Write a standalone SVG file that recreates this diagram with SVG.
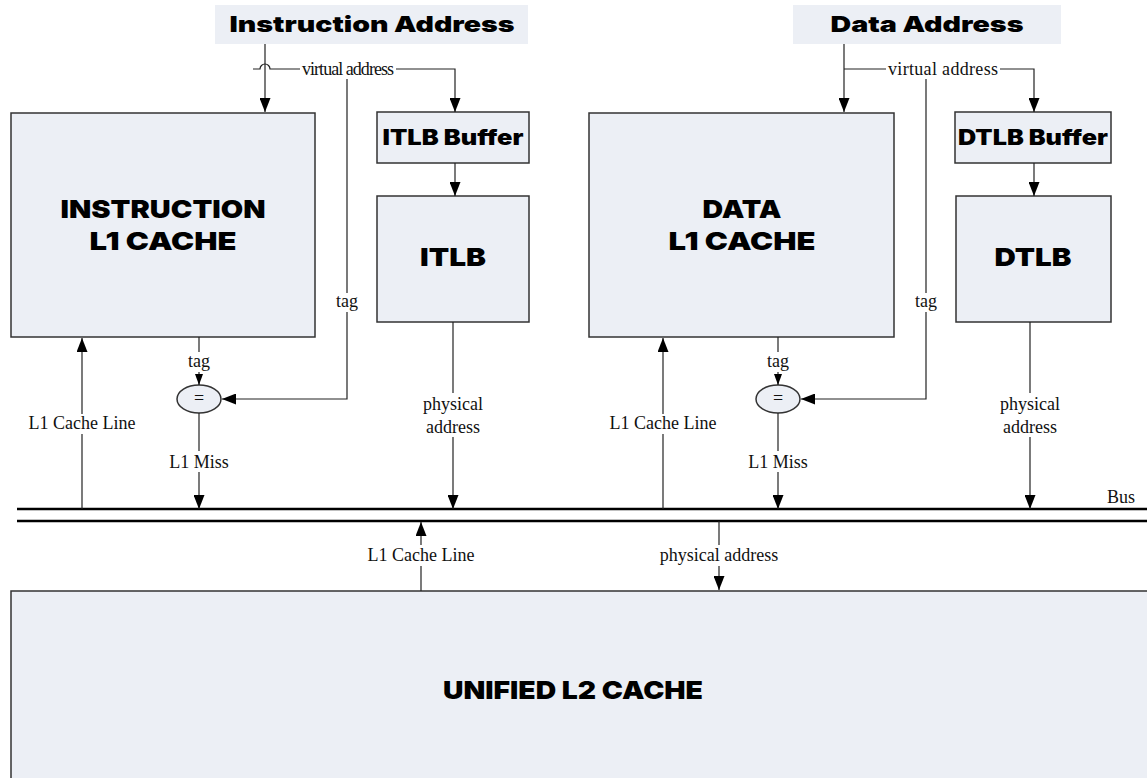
<svg xmlns="http://www.w3.org/2000/svg" width="1147" height="778" viewBox="0 0 1147 778">
  <style>
    .box { fill: #eceff5; stroke: #333; stroke-width: 1.5; }
    .ttl { fill: #eceff5; stroke: none; }
    .hd { font-family: "Inter", "Liberation Sans", Arial, sans-serif; font-weight: 900; fill: #000; text-anchor: middle; }
    .lbl { font-family: "Liberation Serif", "Times New Roman", serif; font-size: 18px; fill: #111; text-anchor: middle; }
    .wire { fill: none; stroke: #222; stroke-width: 1.2; }
    .bus { fill: none; stroke: #000; stroke-width: 2.5; }
    .bg { fill: #fff; stroke: none; }
  </style>
  <defs>
    <marker id="arr" markerUnits="userSpaceOnUse" markerWidth="14" markerHeight="11" refX="14" refY="5.5" orient="auto">
      <path d="M0,0 L14,5.5 L0,11 z" fill="#000"/>
    </marker>
    <marker id="arrS" markerUnits="userSpaceOnUse" markerWidth="11" markerHeight="8" refX="11" refY="4" orient="auto">
      <path d="M0,0 L11,4 L0,8 z" fill="#000"/>
    </marker>
  </defs>

  <rect width="1147" height="778" fill="#fff"/>

  <!-- address sources -->
  <g id="instr-address">
    <rect class="ttl" x="215" y="5" width="313" height="39"/>
    <text class="hd" x="372" y="32" font-size="22" textLength="285" lengthAdjust="spacingAndGlyphs">Instruction Address</text>
  </g>
  <g id="data-address">
    <rect class="ttl" x="793" y="5" width="268" height="39"/>
    <text class="hd" x="927" y="32" font-size="22" textLength="193" lengthAdjust="spacingAndGlyphs">Data Address</text>
  </g>

  <!-- level-1 blocks -->
  <g id="instr-l1">
    <rect class="box" x="11" y="113" width="304" height="224"/>
    <text class="hd" x="163" y="218" font-size="25" textLength="205" lengthAdjust="spacingAndGlyphs">INSTRUCTION</text>
    <text class="hd" x="163" y="250" font-size="25" textLength="147" lengthAdjust="spacingAndGlyphs">L1 CACHE</text>
  </g>
  <g id="itlb-buffer">
    <rect class="box" x="377" y="112" width="152" height="51"/>
    <text class="hd" x="453" y="145" font-size="21" textLength="141" lengthAdjust="spacingAndGlyphs">ITLB Buffer</text>
  </g>
  <g id="itlb">
    <rect class="box" x="377" y="196" width="152" height="126"/>
    <text class="hd" x="453" y="266" font-size="25" textLength="66" lengthAdjust="spacingAndGlyphs">ITLB</text>
  </g>
  <g id="data-l1">
    <rect class="box" x="589" y="113" width="305" height="224"/>
    <text class="hd" x="742" y="218" font-size="25" textLength="79" lengthAdjust="spacingAndGlyphs">DATA</text>
    <text class="hd" x="742" y="250" font-size="25" textLength="147" lengthAdjust="spacingAndGlyphs">L1 CACHE</text>
  </g>
  <g id="dtlb-buffer">
    <rect class="box" x="955" y="112" width="156" height="51"/>
    <text class="hd" x="1033" y="145" font-size="21" textLength="150" lengthAdjust="spacingAndGlyphs">DTLB Buffer</text>
  </g>
  <g id="dtlb">
    <rect class="box" x="956" y="196" width="155" height="126"/>
    <text class="hd" x="1033" y="266" font-size="25" textLength="77" lengthAdjust="spacingAndGlyphs">DTLB</text>
  </g>

  <!-- tag comparators -->
  <g id="instr-compare">
    <ellipse class="box" cx="199" cy="399" rx="22" ry="14" stroke-width="1.2"/>
    <text class="lbl" x="199" y="404" font-size="15">=</text>
  </g>
  <g id="data-compare">
    <ellipse class="box" cx="778" cy="399" rx="22" ry="14" stroke-width="1.2"/>
    <text class="lbl" x="778" y="404" font-size="15">=</text>
  </g>

  <!-- level-2 block -->
  <g id="l2">
    <rect class="box" x="11" y="591" width="1150" height="200"/>
    <text class="hd" x="573" y="699" font-size="25" textLength="260" lengthAdjust="spacingAndGlyphs">UNIFIED L2 CACHE</text>
  </g>

  <!-- connectors -->
  <g id="connectors">
    <path class="bus" d="M17,509 H1147"/>
    <path class="bus" d="M17,521 H1147"/>

    <path class="wire" d="M265,44 V112" marker-end="url(#arr)"/>
    <path class="wire" d="M253,69 H260 A5,5 0 0 1 270,69 H455 V112" marker-end="url(#arr)"/>
    <path class="wire" d="M347,69 V399 H222" marker-end="url(#arr)"/>
    <path class="wire" d="M455,163 V196" marker-end="url(#arr)"/>
    <path class="wire" d="M199,337 V385" marker-end="url(#arrS)"/>
    <path class="wire" d="M199,413 V509" marker-end="url(#arr)"/>
    <path class="wire" d="M82,509 V338" marker-end="url(#arr)"/>
    <path class="wire" d="M453,322 V509" marker-end="url(#arr)"/>

    <path class="wire" d="M844,44 V112" marker-end="url(#arr)"/>
    <path class="wire" d="M844,69 H1034 V112" marker-end="url(#arr)"/>
    <path class="wire" d="M926,69 V399 H801" marker-end="url(#arr)"/>
    <path class="wire" d="M1034,163 V196" marker-end="url(#arr)"/>
    <path class="wire" d="M778,337 V385" marker-end="url(#arrS)"/>
    <path class="wire" d="M778,413 V509" marker-end="url(#arr)"/>
    <path class="wire" d="M663,509 V338" marker-end="url(#arr)"/>
    <path class="wire" d="M1030,322 V509" marker-end="url(#arr)"/>

    <path class="wire" d="M421,591 V522" marker-end="url(#arr)"/>
    <path class="wire" d="M719,521 V590" marker-end="url(#arr)"/>
  </g>

  <!-- connector labels -->
  <g id="labels">
    <rect class="bg" x="300" y="61" width="96" height="18"/>
    <text class="lbl" x="348" y="75" font-size="16" textLength="92" lengthAdjust="spacing">virtual address</text>
    <rect class="bg" x="886" y="61" width="114" height="18"/>
    <text class="lbl" x="943" y="75" font-size="17" textLength="110" lengthAdjust="spacing">virtual address</text>

    <rect class="bg" x="335" y="293" width="24" height="19"/>
    <text class="lbl" x="347" y="307">tag</text>
    <rect class="bg" x="914" y="293" width="24" height="19"/>
    <text class="lbl" x="926" y="307">tag</text>

    <rect class="bg" x="187" y="352" width="24" height="20"/>
    <text class="lbl" x="199" y="367">tag</text>
    <rect class="bg" x="766" y="352" width="24" height="20"/>
    <text class="lbl" x="778" y="367">tag</text>

    <rect class="bg" x="167" y="451" width="64" height="21"/>
    <text class="lbl" x="199" y="468">L1 Miss</text>
    <rect class="bg" x="746" y="451" width="64" height="21"/>
    <text class="lbl" x="778" y="468">L1 Miss</text>

    <rect class="bg" x="26" y="414" width="112" height="20"/>
    <text class="lbl" x="82" y="429">L1 Cache Line</text>
    <rect class="bg" x="607" y="414" width="112" height="20"/>
    <text class="lbl" x="663" y="429">L1 Cache Line</text>

    <rect class="bg" x="420" y="393" width="66" height="44"/>
    <text class="lbl" x="453" y="410">physical</text>
    <text class="lbl" x="453" y="433">address</text>
    <rect class="bg" x="997" y="393" width="66" height="44"/>
    <text class="lbl" x="1030" y="410">physical</text>
    <text class="lbl" x="1030" y="433">address</text>

    <rect class="bg" x="364" y="545" width="114" height="21"/>
    <text class="lbl" x="421" y="561">L1 Cache Line</text>
    <rect class="bg" x="656" y="545" width="126" height="21"/>
    <text class="lbl" x="719" y="561">physical address</text>

    <text class="lbl" x="1121" y="503" font-size="20">Bus</text>
  </g>
</svg>
